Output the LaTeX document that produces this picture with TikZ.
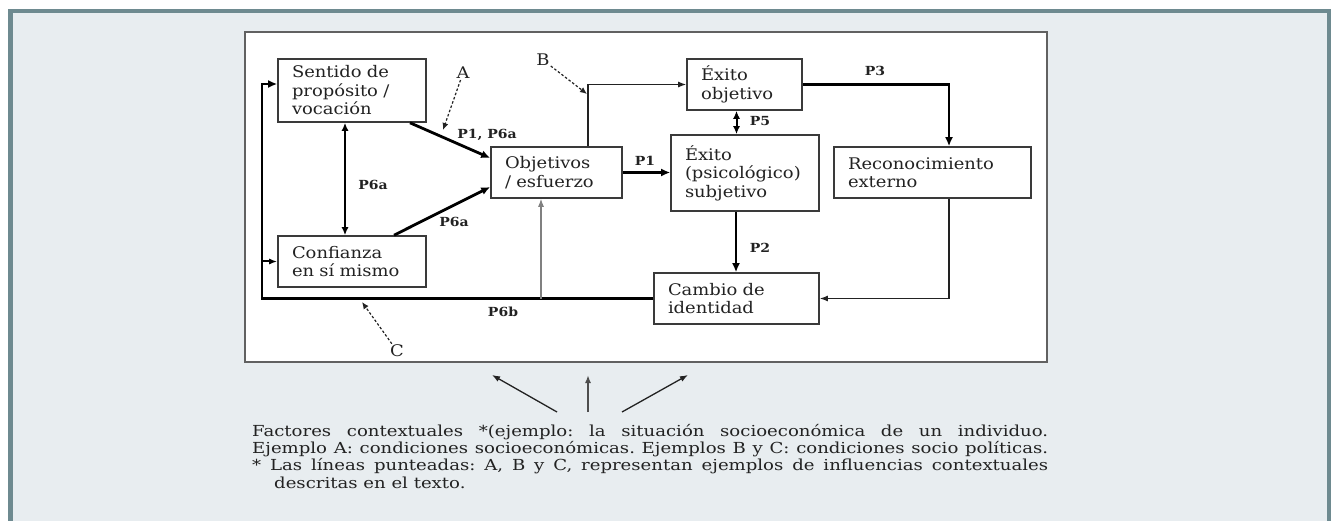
\documentclass[tikz,border=0pt]{standalone}
\usepackage{fontspec}
\setmainfont{DejaVu Serif}
\newfontfamily\boxfam{DejaVu Serif}[FakeStretch=1.12]
\newfontfamily\capfam{DejaVu Serif}[FakeStretch=1.19]
\newcommand\boxtxt{\boxfam\fontsize{16}{18.5}\selectfont}
\newcommand\tagtxt{\boxfam\bfseries\fontsize{12.5}{14}\selectfont}
\newcommand\captxt{\capfam\fontsize{15.2}{17.3}\selectfont\frenchspacing}
\usetikzlibrary{arrows.meta}
\definecolor{framefill}{HTML}{E8EDF0}
\definecolor{framerule}{HTML}{6E8A90}
\definecolor{ink}{HTML}{222222}
\definecolor{boxrule}{HTML}{3A3A3A}

\begin{document}
\begin{tikzpicture}[x=1pt, y=-1pt,
    box/.style={draw=boxrule, line width=1.6pt, fill=white, inner xsep=14pt,
        inner ysep=0pt, align=left, text=ink, font=\boxtxt},
    tag/.style={text=ink, inner sep=1pt, font=\tagtxt},
    ctx/.style={text=ink, inner sep=1pt, font=\boxtxt},
    heavy/.style={draw=black, line width=2.8pt},
    light/.style={draw=ink, line width=1.3pt},
    hd/.style={-{Latex[length=9pt,width=8pt]}},
    hdd/.style={{Latex[length=8pt,width=7pt]}-{Latex[length=8pt,width=7pt]}},
    lhd/.style={-{Latex[length=8pt,width=6pt]}},
    influence/.style={draw=ink, line width=1.2pt, dash pattern=on 2.5pt off 2pt,
        -{Latex[length=7pt,width=6pt]}}]

    \clip (0,0) rectangle (1335,521);
    \fill[white] (0,0) rectangle (1335,521);
    \draw[draw=framerule, fill=framefill, line width=4.5pt] (10.5,11) rectangle (1329,560);
    \draw[draw=boxrule!80, fill=white, line width=2pt] (245,32) rectangle (1047,362);

    \node[box, text width=120pt, minimum height=63pt] (Sentido) at (352,90.5) {Sentido de\\propósito /\\vocación};
    \node[box, text width=103pt, minimum height=51pt] (Objetivos) at (556.5,172.5) {Objetivos\\/ esfuerzo};
    \node[box, text width=120pt, minimum height=51pt] (Confianza) at (352,261.5) {Confianza\\en sí mismo};
    \node[box, text width=87pt, minimum height=51pt] (ExObj) at (744.5,84.5) {Éxito\\objetivo};
    \node[box, text width=120pt, minimum height=76pt] (Subj) at (745,173) {Éxito\\(psicológico)\\subjetivo};
    \node[box, text width=169pt, minimum height=51pt] (Recon) at (932.5,172.5) {Reconocimiento\\externo};
    \node[box, text width=137pt, minimum height=51pt] (Cambio) at (736.5,298.5) {Cambio de\\identidad};

    \coordinate (fbtop) at (262,84);
    \coordinate (p5) at ([xshift=-8pt]ExObj.south);
    \coordinate (p2) at ([xshift=-9pt]Subj.south);
    \coordinate (og) at ([xshift=-15.5pt]Objetivos.south);

    \draw[heavy, hd] (Cambio.west) -| (fbtop) -- (Sentido.west |- fbtop);
    \draw[heavy, lhd, line width=2pt] (Confianza.west -| fbtop) -- (Confianza.west);
    \draw[heavy, hdd] ([xshift=-7pt]Sentido.south) -- ([xshift=-7pt]Confianza.north);
    \draw[heavy, hd] ([xshift=58pt]Sentido.south) -- ([yshift=14.5pt]Objetivos.west);
    \draw[heavy, hd] ([xshift=42pt]Confianza.north) -- ([yshift=-14.5pt]Objetivos.west);
    \draw[heavy, hd] (Objetivos.east) -- (Objetivos.east -| Subj.west);
    \draw[light, lhd] ([xshift=31.5pt]Objetivos.north) |- (ExObj.west);
    \draw[heavy, hdd, line width=2pt] (p5) -- (p5 |- Subj.north);
    \draw[heavy, hd] (ExObj.east) -| ([xshift=16.5pt]Recon.north);
    \draw[heavy, hd] (p2) -- (p2 |- Cambio.north);
    \draw[light, lhd] ([xshift=16.5pt]Recon.south) |- (Cambio.east);
    \draw[draw=gray, line width=1.1pt, lhd] (og |- Cambio.west) -- (og);

    \node[tag] (t1) at (487,135) {P1, P6a};
    \node[tag] (t2) at (373,185) {P6a};
    \node[tag] (t3) at (454,222) {P6a};
    \node[tag] (t4) at (645,161) {P1};
    \node[tag] (t5) at (760,121) {P5};
    \node[tag] (t6) at (875,71) {P3};
    \node[tag] (t7) at (760,248) {P2};
    \node[tag] (t8) at (503,312) {P6b};

    \node[ctx] (lblA) at (463,73) {A};
    \node[ctx] (lblB) at (543,60) {B};
    \node[ctx] (lblC) at (397,351) {C};
    \coordinate (tipA) at (443,130);
    \coordinate (tipB) at (587,94);
    \coordinate (tipC) at (362,302);
    \draw[influence] (lblA) -- (tipA);
    \draw[influence] (lblB) -- (tipB);
    \draw[influence] (lblC) -- (tipC);

    \coordinate (f1) at (557,412);
    \coordinate (f2) at (588,412);
    \coordinate (f3) at (622,412);
    \coordinate (g1) at (492,375);
    \coordinate (g2) at (588,375);
    \coordinate (g3) at (688,375);
    \draw[light, lhd] (f1) -- (g1);
    \draw[light, lhd, draw=ink!80, line width=1.8pt] (f2) -- (g2);
    \draw[light, lhd] (f3) -- (g3);

    \node[anchor=north west, inner sep=0pt, text width=796pt, align=justify,
        text=ink, font=\captxt] (cap) at (252,424)
        {\noindent Factores contextuales *(ejemplo: la situación socioeconómica de un individuo.\linebreak
        \makebox[\linewidth][s]{Ejemplo A: condiciones socioeconómicas. Ejemplos B y C: condiciones socio políticas.}\linebreak
        \makebox[18pt][l]{*}Las líneas punteadas: A, B y C,
        representan ejemplos de influencias contextuales\linebreak
        \hspace*{22pt}descritas en el texto.};
\end{tikzpicture}
\end{document}
